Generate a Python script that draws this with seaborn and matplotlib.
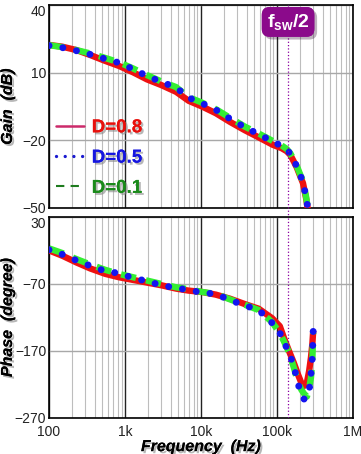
import numpy as np
import pandas as pd
import seaborn as sns
import matplotlib
matplotlib.use('Agg')
import matplotlib.pyplot as plt
import matplotlib.patheffects as pe
from matplotlib.lines import Line2D
from matplotlib.ticker import LogLocator, NullFormatter

# data
gain_freq = [100, 150, 230, 350, 550, 830, 1270, 1950, 3000, 4700, 6900, 10300, 15700,
             24000, 37600, 57500, 88000, 115000, 134000, 150000, 167000, 182000, 200000,
             220000, 241000, 256000]
gain_d08 = [22.3, 21.5, 20.0, 17.8, 15.2, 13.0, 10.2, 7.0, 4.5, 1.5, -2.5, -5.0, -8.0,
            -11.8, -15.5, -18.7, -22.0, -23.5, -24.8, -26.5, -29.5, -32.0, -35.5,
            -39.0, -45.5, -51.0]
gain_d05 = [22.0, 21.1, 19.7, 18.1, 16.1, 14.4, 11.6, 8.5, 5.9, 3.4, -1.1, -3.6, -6.5,
            -10.4, -14.2, -17.3, -20.6, -22.5, -24.0, -26.0, -29.0, -31.5, -35.0,
            -38.5, -45.0, -50.5]
gain_d01 = [22.2, 21.3, 20.0, 18.5, 16.5, 14.6, 11.9, 8.9, 6.1, 3.6, -0.9, -3.3, -6.2,
            -10.0, -13.9, -17.0, -20.3, -22.3, -23.8, -25.8, -28.8, -31.3, -34.8,
            -38.3, -44.8, -50.5]

phase_freq = [100, 150, 230, 350, 550, 830, 1270, 1950, 3000, 4700, 6900, 10300, 15700,
              24000, 37600, 57500, 86000, 109000, 125000, 144000, 167000, 189000,
              210000, 228000, 248000, 265000, 280000, 292000, 300000]
phase_d08 = [-20, -28, -38, -47, -55, -60, -64, -68, -72, -77, -80, -82, -86,
             -92, -100, -107, -121, -133, -152, -170, -188, -205,
             -218, -222, -217, -200, -180, -160, -140]
phase_d05 = [-19, -26, -35, -43, -51, -54, -61, -66, -72, -76, -79, -83, -85,
             -94, -102, -109, -128, -143, -158, -172, -193, -219,
             -234, -242, -238, -230, -205, -180, -139]
phase_d01 = [-17, -24, -33, -41, -49, -55, -60, -65, -70, -75, -78, -82, -85,
             -93, -101, -109, -127, -143, -157, -172, -195, -217,
             -228, -234, -238, -226, -210, -185, -143]

labels = ['D=0.8', 'D=0.5', 'D=0.1']
f_half = 140000
xticks = [100, 1e3, 1e4, 1e5, 1e6]
xticklabels = ['100', '1k', '10k', '100k', '1M']

sns.set_style('white')
plt.rcParams['font.family'] = ['Liberation Sans', 'DejaVu Sans']
plt.rcParams['mathtext.fontset'] = 'custom'
plt.rcParams['mathtext.rm'] = 'Liberation Sans'
plt.rcParams['mathtext.bf'] = 'Liberation Sans:bold'

fig = plt.figure(figsize=(3.61, 4.54), dpi=100)
ax1 = fig.add_axes([0.1357, 0.542, 0.842, 0.447])
ax2 = fig.add_axes([0.1357, 0.0793, 0.842, 0.443])

red = '#ee1111'
green = '#33ee33'
blue = '#1414f0'


def draw(ax, x, ys):
    sns.lineplot(x=x, y=ys[0], ax=ax, color=red, lw=4.6, solid_capstyle='butt',
                 estimator=None, sort=False, zorder=3)
    sns.lineplot(x=x, y=ys[2], ax=ax, color=green, lw=4.6, linestyle=(0, (2.4, 1.6)),
                 estimator=None, sort=False, zorder=4)
    sns.lineplot(x=x, y=ys[1], ax=ax, color=blue, lw=5, linestyle=(0, (0.01, 2.0)),
                 dash_capstyle='round', estimator=None, sort=False, zorder=5)


draw(ax1, gain_freq, [gain_d08, gain_d05, gain_d01])
draw(ax2, phase_freq, [phase_d08, phase_d05, phase_d01])

for ax in (ax1, ax2):
    ax.set_xscale('log')
    ax.set_xlim(100, 1e6)
    ax.set_xticks(xticks)
    ax.xaxis.set_minor_locator(LogLocator(base=10, subs=np.arange(2, 10)))
    ax.xaxis.set_minor_formatter(NullFormatter())
    ax.grid(which='minor', axis='x', color='#bdbdbd', lw=0.8)
    ax.grid(which='major', axis='x', color='#222222', lw=1.0)
    ax.grid(which='major', axis='y', color='#a8a8a8', lw=1.0)
    ax.set_axisbelow(True)
    for s in ax.spines.values():
        s.set_color('black')
        s.set_linewidth(1.2)
    ax.tick_params(axis='both', which='both', length=0, labelsize=10, pad=2,
                   colors='#222222')
    ax.tick_params(axis='x', pad=5)
    ax.set_xlabel('')
    ax.set_ylabel('')

ax1.set_ylim(-50, 40)
ax1.set_yticks([40, 10, -20, -50])
ax1.set_xticklabels([])
ax2.set_ylim(-270, 30)
ax2.set_yticks([30, -70, -170, -270])
ax2.set_xticklabels(xticklabels)
# top labels of each panel sit just inside the frame
for ax in (ax1, ax2):
    ax.get_yticklabels()[0].set_va('top')

shadow = [pe.withSimplePatchShadow(offset=(1.5, -1.5), shadow_rgbFace='#888888', alpha=0.6),
          pe.Normal()]
lab_kw = dict(fontsize=11.5, fontweight='bold', fontstyle='italic', color='black')
ax1.set_ylabel('Gain  (dB)', **lab_kw, path_effects=shadow)
ax2.set_ylabel('Phase  (degree)', **lab_kw, path_effects=shadow)
ax2.set_xlabel('Frequency  (Hz)', **lab_kw, path_effects=shadow)
ax1.yaxis.set_label_coords(-0.112, 0.5)
ax2.yaxis.set_label_coords(-0.112, 0.5)
ax2.xaxis.set_label_coords(0.5, -0.105)

# fsw/2 marker line across both panels
ax1.axvline(f_half, ymin=-0.05, ymax=1, color='#8a00a0', lw=0.9, ls=':', clip_on=False, zorder=6)
ax2.axvline(f_half, color='#8a00a0', lw=0.9, ls=':', zorder=6)
t = ax1.text(f_half, 32.5, r'$\mathbf{f_{sw}/2}$', color='white', fontsize=14,
             ha='center', va='center', zorder=7,
             bbox=dict(boxstyle='round,pad=0.25,rounding_size=0.4', fc='#8b0a8b', ec='none'))
t.get_bbox_patch().set_path_effects([pe.withSimplePatchShadow(offset=(2, -2), alpha=0.3),
                                     pe.Normal()])

# legend
handles = [Line2D([], [], color='#cc2a6a', lw=1.8),
           Line2D([], [], color='#1a1ad0', lw=2.4, linestyle=(0, (0.01, 2.6)),
                  dash_capstyle='round'),
           Line2D([], [], color='#1e7b1e', lw=1.5, linestyle=(0, (4, 3)))]
leg = ax1.legend(handles, labels, loc='lower left', bbox_to_anchor=(-0.02, -0.01),
                 frameon=False, prop=dict(size=13.5, weight='bold'),
                 handlelength=1.5, handletextpad=0.4, labelspacing=0.7, borderaxespad=0.3)
for txt, c in zip(leg.get_texts(), ['#e8100c', '#1515e0', '#1a8a1a']):
    txt.set_color(c)
    txt.set_path_effects(shadow)

fig.savefig('out.png', dpi=100)
